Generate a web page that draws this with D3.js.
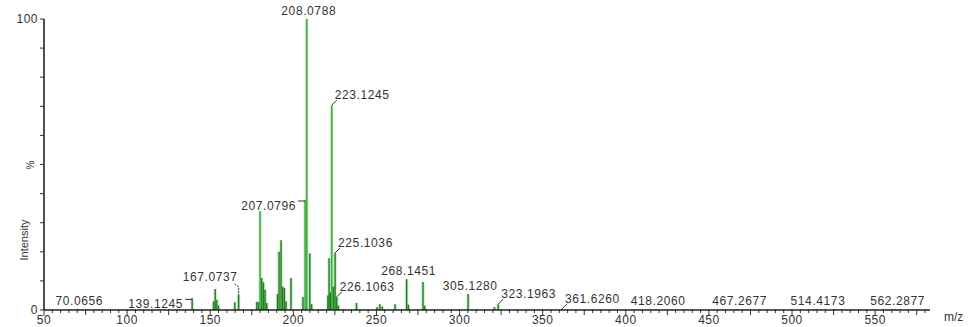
<!DOCTYPE html>
<html>
<head>
<meta charset="utf-8">
<script src="https://cdn.jsdelivr.net/npm/d3@7"></script>
<style>
  html, body { margin: 0; padding: 0; background: #fff; }
  svg { display: block; }
  text { font-family: "Liberation Sans", Arial, sans-serif; fill: #333; }
</style>
</head>
<body>
<svg id="chart" width="978" height="327"></svg>
<script>
// Mass spectrum: m/z of each centroid peak and its relative intensity (%)
const peakMz = [
  70.0656, 139.1245, 152.0, 153.0, 154.0, 155.0, 164.8, 167.0737,
  178.0, 179.1, 180.0, 181.0, 182.0, 183.0, 184.0,
  190.5, 191.4, 192.6, 193.6, 194.6, 195.6, 198.6,
  205.8, 207.0796, 208.0788, 209.9, 211.0,
  220.8, 221.5, 222.3, 223.1245, 224.1, 225.1036, 226.1063, 227.1,
  238.0, 250.4, 252.0, 253.5, 261.2, 268.1451, 269.2, 278.0, 279.0,
  305.1280, 321.0, 323.1963, 361.6260, 418.2060, 467.2677, 514.4173, 562.2877
];
const peakIntensity = [
  0.4, 4.0, 3.0, 7.2, 3.5, 1.5, 2.7, 5.2,
  2.8, 2.7, 34.0, 11.0, 9.5, 7.0, 2.4,
  5.5, 20.0, 24.0, 8.0, 7.5, 3.0, 11.0,
  4.5, 37.8, 100, 19.5, 2.0,
  5.0, 17.8, 6.0, 70.4, 8.0, 19.6, 4.5, 1.5,
  2.4, 1.0, 2.0, 1.2, 2.0, 10.6, 1.8, 9.6, 1.5,
  5.5, 1.0, 2.0, 0.4, 0.3, 0.3, 0.3, 0.3
];

// Annotated peaks (label text is the m/z value)
const labelMz = [
  70.0656, 139.1245, 167.0737, 207.0796, 208.0788, 223.1245, 225.1036,
  226.1063, 268.1451, 305.1280, 323.1963, 361.6260, 418.2060, 467.2677,
  514.4173, 562.2877
];
// How each label attaches: "top" centred above, "left" bracket to the left,
// "right" small diagonal leader to the upper right
const labelStyle = [
  "top", "left", "hook", "left", "top", "right", "right",
  "right", "top", "top", "right", "right", "top", "top",
  "top", "top"
];

const xTicks = [50, 100, 150, 200, 250, 300, 350, 400, 450, 500, 550];
const yTickLabels = ["0", "100"];

const svg = d3.select("#chart");
const x = d3.scaleLinear().domain([50, 583]).range([44, 930]);
const y = d3.scaleLinear().domain([0, 100]).range([310, 19]);

const intensityOf = mz => peakIntensity[peakMz.indexOf(mz)];

// peaks: soft halo plus core line
const peaks = peakMz.map((m, i) => ({ mz: m, v: peakIntensity[i] }));
svg.append("g").selectAll("line").data(peaks).join("line")
  .attr("x1", d => x(d.mz)).attr("x2", d => x(d.mz))
  .attr("y1", y(0)).attr("y2", d => y(d.v))
  .attr("stroke", "#7cc87c").attr("stroke-width", 3.2).attr("opacity", 0.45);
svg.append("g").selectAll("line").data(peaks).join("line")
  .attr("x1", d => x(d.mz)).attr("x2", d => x(d.mz))
  .attr("y1", y(0)).attr("y2", d => y(d.v))
  .attr("stroke", d => d.v > 30 ? "#3aa83a" : "#1f7f1f")
  .attr("stroke-width", 1.4);

// x axis: line with minor / medium / major ticks
const xg = svg.append("g");
xg.append("line").attr("x1", x(50)).attr("x2", x(583))
  .attr("y1", y(0)).attr("y2", y(0))
  .attr("stroke", "#222").attr("stroke-width", 1.6);
const minor = d3.range(50, 583, 5);
xg.selectAll("line.t").data(minor).join("line").attr("class", "t")
  .attr("x1", d => x(d)).attr("x2", d => x(d))
  .attr("y1", y(0) - 1)
  .attr("y2", d => y(0) + (d % 50 === 0 ? 6 : d % 25 === 0 ? 5 : 3))
  .attr("stroke", "#333").attr("stroke-width", 1);
xg.selectAll("text").data(xTicks).join("text")
  .attr("x", d => x(d)).attr("y", 327 - 3)
  .attr("text-anchor", "middle").attr("font-size", 12)
  .attr("letter-spacing", 0.5)
  .text(d => d);
svg.append("text").attr("x", 944).attr("y", 321)
  .attr("font-size", 12).text("m/z");

// y axis
const yg = svg.append("g");
yg.append("line").attr("x1", x(50)).attr("x2", x(50))
  .attr("y1", y(0)).attr("y2", y(100))
  .attr("stroke", "#222").attr("stroke-width", 1.6);
yg.selectAll("line.t").data(d3.range(0, 101, 10)).join("line").attr("class", "t")
  .attr("x1", x(50) - 4).attr("x2", x(50))
  .attr("y1", d => y(d)).attr("y2", d => y(d))
  .attr("stroke", "#333").attr("stroke-width", 1);
yg.selectAll("text").data(yTickLabels).join("text")
  .attr("x", x(50) - 6).attr("y", d => y(+d) + 4)
  .attr("text-anchor", "end").attr("font-size", 12)
  .attr("letter-spacing", 0.5)
  .text(d => d);
svg.append("text").attr("transform", `translate(34,${165}) rotate(-90)`)
  .attr("text-anchor", "middle").attr("font-size", 10).text("%");
svg.append("text").attr("transform", `translate(28,${240}) rotate(-90)`)
  .attr("text-anchor", "middle").attr("font-size", 11).text("Intensity");

// peak annotations
const ann = svg.append("g");
labelMz.forEach((m, i) => {
  const px = x(m), py = y(intensityOf(m));
  const style = labelStyle[i];
  const t = ann.append("text").attr("font-size", 12).attr("letter-spacing", 0.6)
    .text(m.toFixed(4));
  if (style === "top") {
    t.attr("x", px + 2).attr("y", py - 4).attr("text-anchor", "middle");
  } else if (style === "left") {
    t.attr("x", px - 9).attr("y", py + 10).attr("text-anchor", "end");
    ann.append("path").attr("d", `M${px - 7},${py + 1}H${px}`)
      .attr("fill", "none").attr("stroke", "#333").attr("stroke-width", 1);
  } else if (style === "hook") {
    t.attr("x", px - 1).attr("y", py - 14).attr("text-anchor", "end");
    ann.append("path").attr("d", `M${px - 4},${py - 11}L${px},${py - 8}V${py}`)
      .attr("fill", "none").attr("stroke", "#333").attr("stroke-width", 1)
      .attr("stroke-dasharray", "2,1");
  } else {
    t.attr("x", px + 3).attr("y", py - 6).attr("text-anchor", "start");
    ann.append("path").attr("d", `M${px},${py}L${px + 5},${py - 5}`)
      .attr("fill", "none").attr("stroke", "#333").attr("stroke-width", 1);
  }
});
</script>
</body>
</html>
